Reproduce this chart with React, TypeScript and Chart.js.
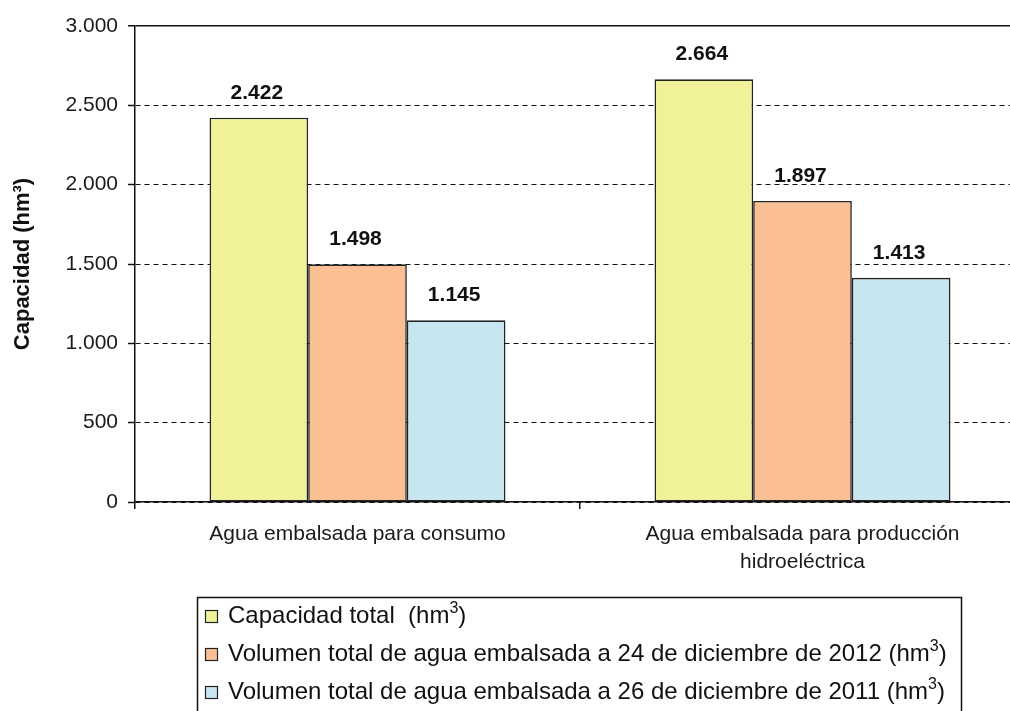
import React, { useEffect, useRef } from "react";
import { Chart, registerables } from "chart.js";

Chart.register(...registerables);

const categories: (string | string[])[] = [
  "Agua embalsada para consumo",
  ["Agua embalsada para producción", "hidroeléctrica"],
];
const seriesLabels = [
  "Capacidad total  (hm³)",
  "Volumen total de agua embalsada a 24 de diciembre de 2012 (hm³)",
  "Volumen total de agua embalsada a 26 de diciembre de 2011 (hm³)",
];
const capacidadTotal = [2422, 2664];
const volumen2012 = [1498, 1897];
const volumen2011 = [1145, 1413];
const seriesColors = ["#F1F19A", "#FAC093", "#C8E6F0"];
const yTitle = "Capacidad (hm³)";

const FONT = "'Liberation Sans', Arial, sans-serif";

const fmt = (n: number) =>
  Math.round(n)
    .toString()
    .replace(/\B(?=(\d{3})+(?!\d))/g, ".");

const valueLabels = {
  id: "valueLabels",
  afterDatasetsDraw(chart: any) {
    const ctx = chart.ctx;
    ctx.save();
    ctx.font = `bold 21px ${FONT}`;
    ctx.fillStyle = "#111";
    ctx.textAlign = "center";
    ctx.textBaseline = "middle";
    chart.data.datasets.forEach((ds: any, i: number) => {
      const meta = chart.getDatasetMeta(i);
      meta.data.forEach((bar: any, j: number) => {
        ctx.fillText(fmt(ds.data[j]), bar.x - 2, bar.y - 25);
      });
    });
    ctx.restore();
  },
};

// draws text, rendering "³" as a raised smaller "3"
function drawSupText(ctx: any, text: string, x: number, y: number, size: number) {
  const parts = text.split("³");
  let cx = x;
  parts.forEach((p, idx) => {
    ctx.font = `${size}px ${FONT}`;
    ctx.fillText(p, cx, y);
    cx += ctx.measureText(p).width;
    if (idx < parts.length - 1) {
      ctx.font = `${Math.round(size * 0.68)}px ${FONT}`;
      ctx.fillText("3", cx, y - size * 0.3);
      cx += ctx.measureText("3").width;
    }
  });
}

const boxLegend = {
  id: "boxLegend",
  afterDraw(chart: any) {
    const ctx = chart.ctx;
    ctx.save();
    ctx.strokeStyle = "#111";
    ctx.lineWidth = 1.5;
    ctx.strokeRect(197.5, 597.5, 764, 200);
    ctx.textBaseline = "middle";
    ctx.textAlign = "left";
    chart.data.datasets.forEach((ds: any, i: number) => {
      const cy = 616 + i * 38;
      ctx.fillStyle = ds.backgroundColor;
      ctx.fillRect(205.5, cy - 5.5, 12, 12);
      ctx.lineWidth = 1.2;
      ctx.strokeStyle = "#222";
      ctx.strokeRect(205.5, cy - 5.5, 12, 12);
      ctx.fillStyle = "#111";
      drawSupText(ctx, ds.label, 228, cy, 24);
    });
    ctx.restore();
  },
};

export default function App() {
  const ref = useRef<HTMLCanvasElement>(null);
  useEffect(() => {
    if (!ref.current) return;
    const data = [capacidadTotal, volumen2012, volumen2011];
    const chart = new Chart(ref.current, {
      type: "bar",
      data: {
        labels: categories as any,
        datasets: data.map((d, i) => ({
          label: seriesLabels[i],
          data: d,
          backgroundColor: seriesColors[i],
          borderColor: "#222",
          borderWidth: 1.6,
          borderSkipped: false,
          categoryPercentage: 0.665,
          barPercentage: 1,
        })),
      },
      options: {
        responsive: false,
        animation: false,
        layout: { padding: { top: 26, right: 5, left: 0, bottom: 0 } },
        plugins: {
          legend: { display: false },
          tooltip: { enabled: false },
        },
        scales: {
          x: {
            afterFit: (s: any) => {
              s.height = 209;
            },
            grid: {
              offset: true,
              drawOnChartArea: false,
              drawTicks: true,
              tickLength: 7,
              color: "#111",
              lineWidth: 1.5,
            },
            border: { display: true, color: "#111", width: 1.5 },
            ticks: {
              color: "#1a1a1a",
              font: { family: FONT, size: 21, lineHeight: 1.33 },
              padding: 11,
              maxRotation: 0,
              autoSkip: false,
            },
          },
          y: {
            min: 0,
            max: 3000,
            afterFit: (s: any) => {
              s.width = 135;
            },
            ticks: {
              stepSize: 500,
              color: "#1a1a1a",
              font: { family: FONT, size: 21 },
              padding: 10,
              callback: (v: any) => fmt(Number(v)),
            },
            grid: {
              color: "#111",
              lineWidth: (c: any) => (c.tick && c.tick.value === 3000 ? 1.5 : 1),
              tickLength: 7,
              tickColor: "#111",
              tickWidth: 1.5,
            },
            border: {
              display: true,
              color: "#111",
              width: 1.5,
              dash: (c: any) => (c.tick && c.tick.value === 3000 ? [] : [5, 4]),
            } as any,
            title: {
              display: true,
              text: yTitle,
              color: "#111",
              font: { family: FONT, size: 22, weight: "bold" },
              padding: { top: 10, bottom: 0 },
            },
          },
        },
      },
      plugins: [valueLabels, boxLegend],
    });
    return () => chart.destroy();
  }, []);
  return (
    <div
      style={{
        position: "fixed",
        left: 0,
        top: 0,
        width: 1010,
        height: 711,
        overflow: "hidden",
        background: "#fff",
      }}
    >
      <canvas ref={ref} width={1030} height={711} style={{ display: "block" }} />
    </div>
  );
}
